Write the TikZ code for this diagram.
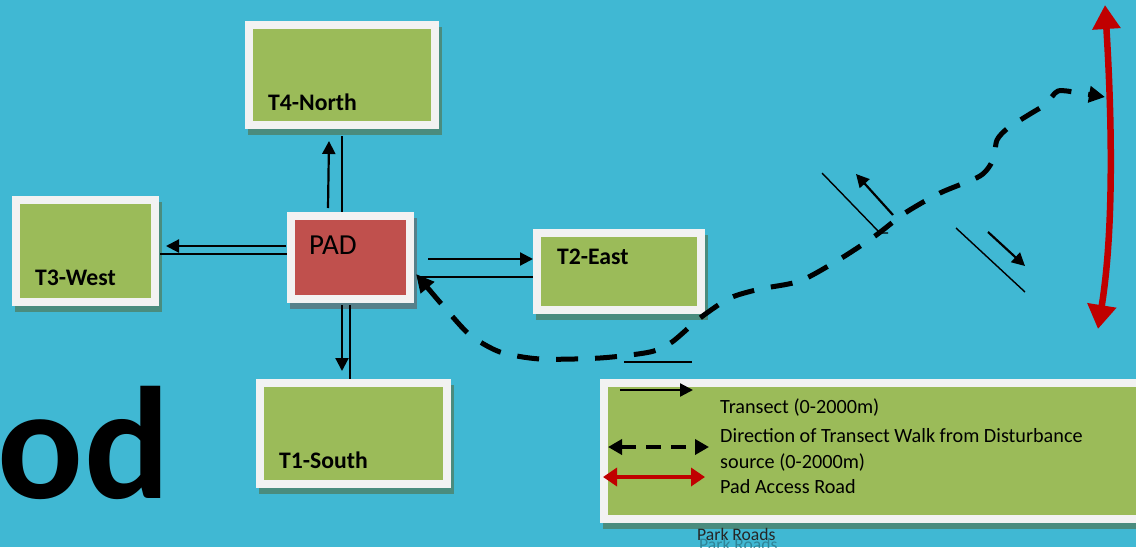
\documentclass[tikz,border=0pt]{standalone}
\usepackage{fontspec}
\setmainfont{Carlito}
\usetikzlibrary{arrows.meta}
\definecolor{bg}{HTML}{40B8D3}
\definecolor{boxgreen}{HTML}{9BBB59}
\definecolor{padred}{HTML}{C0504D}
\definecolor{frame}{HTML}{F2F2F2}
\definecolor{shadowg}{HTML}{4A8C7E}
\definecolor{shadowr}{HTML}{56808A}
\definecolor{road}{HTML}{C00000}
\pgfdeclarelayer{background}
\pgfsetlayers{background,main}
\tikzset{
  gbox/.style={draw=frame, line width=8pt, fill=boxgreen, inner sep=0pt},
  rbox/.style={gbox, fill=padred},
  lbl/.style={font=\fontsize{23.7}{28}\selectfont\bfseries, anchor=base west, inner sep=0pt},
  legtext/.style={font=\fontsize{20.2}{26}\selectfont, anchor=base west, inner sep=0pt},
  tr/.style={line width=2.2pt, -{Triangle[length=13pt,width=13pt]}},
  thinline/.style={line width=1.4pt},
  walk/.style={line width=5pt, dash pattern=on 22pt off 17pt},
  walkarrows/.style={{Triangle[length=18pt,width=17pt]}-{Triangle[length=16pt,width=16pt]}},
  roadarrow/.style={draw=road, line width=6.5pt, {Triangle[length=24pt,width=27pt]}-{Triangle[length=24pt,width=28pt]}},
}
\newcommand{\boxshadow}[2]{\fill[#2] ([shift={(3,6)}]#1.north west) rectangle ([shift={(3,6)}]#1.south east);}
\begin{document}
\begin{tikzpicture}[x=1pt,y=-1pt]
\useasboundingbox (0,0) rectangle (1136,547);
\begin{pgfonlayer}{background}
\fill[bg] (0,0) rectangle (1136,547);
\end{pgfonlayer}

% big partial title
\node[font=\fontsize{160}{160}\selectfont\bfseries, anchor=base east, inner sep=0pt] (title) at (170,498) {od};

% boxes
\node[gbox, minimum width=186pt, minimum height=100pt] (t4) at (342,75) {};
\node[gbox, minimum width=139pt, minimum height=102pt] (t3) at (85.5,251) {};
\node[rbox, minimum width=119pt, minimum height=83pt] (pad) at (350.5,257.5) {};
\node[gbox, minimum width=164pt, minimum height=77pt] (t2) at (619,271.5) {};
\node[gbox, minimum width=187pt, minimum height=101pt] (t1) at (353.5,433.5) {};
\node[gbox, minimum width=546pt, minimum height=136pt] (leg) at (877,451) {};

\begin{pgfonlayer}{background}
\boxshadow{t4}{shadowg}
\boxshadow{t3}{shadowg}
\boxshadow{pad}{shadowr}
\boxshadow{t2}{shadowg}
\boxshadow{t1}{shadowg}
\boxshadow{leg}{shadowg}
\end{pgfonlayer}

% labels
\node[lbl] (t4l) at (268,110) {T4-North};
\node[lbl] (t3l) at (35,285) {T3-West};
\node[lbl] (t2l) at (557,264) {T2-East};
\node[lbl] (t1l) at (279,468) {T1-South};
\node[font=\fontsize{29}{32}\selectfont, anchor=base west, inner sep=0pt] (padl) at (309,254) {PAD};

% transect coordinates
\coordinate (n1) at (328,208); \coordinate (n2) at (329,141);
\coordinate (n3) at (342,136); \coordinate (n4) at (342,212);
\coordinate (w1) at (286,246); \coordinate (w2) at (166,246);
\coordinate (w3) at (160,254); \coordinate (w4) at (287,254);
\coordinate (s1) at (342,305); \coordinate (s2) at (342,371);
\coordinate (s3) at (350,305); \coordinate (s4) at (350,379);
\coordinate (e1) at (428,259); \coordinate (e2) at (533,259);
\coordinate (e3) at (417,277); \coordinate (e4) at (533,277);

\draw[tr] (n1) -- (n2);
\draw[thinline] (n3) -- (n4);
\draw[tr] (w1) -- (w2);
\draw[thinline] (w3) -- (w4);
\draw[tr] (s1) -- (s2);
\draw[thinline] (s3) -- (s4);
\draw[tr] (e1) -- (e2);
\draw[thinline] (e3) -- (e4);

% side transects near the walk
\coordinate (d1) at (822,173); \coordinate (d2) at (880,233); \coordinate (d2b) at (888,233);
\coordinate (d3) at (893,215); \coordinate (d4) at (856,174);
\coordinate (d5) at (956,228); \coordinate (d6) at (1025,292);
\coordinate (d7) at (988,232); \coordinate (d8) at (1025,266);
\draw[thinline] (d1) -- (d2) -- (d2b);
\draw[tr] (d3) -- (d4);
\draw[thinline] (d5) -- (d6);
\draw[tr] (d7) -- (d8);

\coordinate (u1) at (624,362); \coordinate (u2) at (692,362);
\draw[thinline] (u1) -- (u2);

% pad access road
\coordinate (rdT) at (1105,5);
\coordinate (rdB) at (1098,329);
\draw[roadarrow] (rdT) .. controls (1112,120) and (1114,230) .. (rdB);

% walk direction
\draw[walk, walkarrows] plot[smooth, tension=0.45] coordinates {
 (416,274) (445,308) (470,335) (500,352) (540,359) (600,358) (650,352)
 (672,342) (700,318) (730,298) (760,289) (800,281) (840,259) (875,236)
 (905,213) (940,193) (980,176) (993,160) (997,140) (1008,128) (1030,114)
 (1046,104) (1058,91) (1080,93) (1105,97)};

% legend
\coordinate (l1a) at (620,390); \coordinate (l1b) at (693,390);
\coordinate (l2a) at (608,447); \coordinate (l2b) at (709,447);
\coordinate (l3a) at (603,477); \coordinate (l3b) at (705,477);
\draw[tr] (l1a) -- (l1b);
\draw[line width=4pt, dash pattern=on 15pt off 10pt, {Triangle[length=14pt,width=15pt]}-{Triangle[length=14pt,width=15pt]}] (l2a) -- (l2b);
\draw[draw=road, line width=4pt, {Triangle[length=14pt,width=18pt]}-{Triangle[length=14pt,width=18pt]}] (l3a) -- (l3b);
\node[legtext] (lt1) at (720,413) {Transect (0-2000m)};
\node[legtext] (lt2) at (720,442) {Direction of Transect Walk from Disturbance};
\node[legtext] (lt3) at (720,468) {source (0-2000m)};
\node[legtext] (lt4) at (720,493) {Pad Access Road};

\node[font=\fontsize{17.6}{19}\selectfont, anchor=base west, inner sep=0pt, text=black!35!bg, opacity=0.8] (pr2) at (699,550) {Park Roads};
\node[font=\fontsize{17.6}{19}\selectfont, anchor=base west, inner sep=0pt, text=black!85] (pr) at (697,540) {Park Roads};
\end{tikzpicture}
\end{document}
